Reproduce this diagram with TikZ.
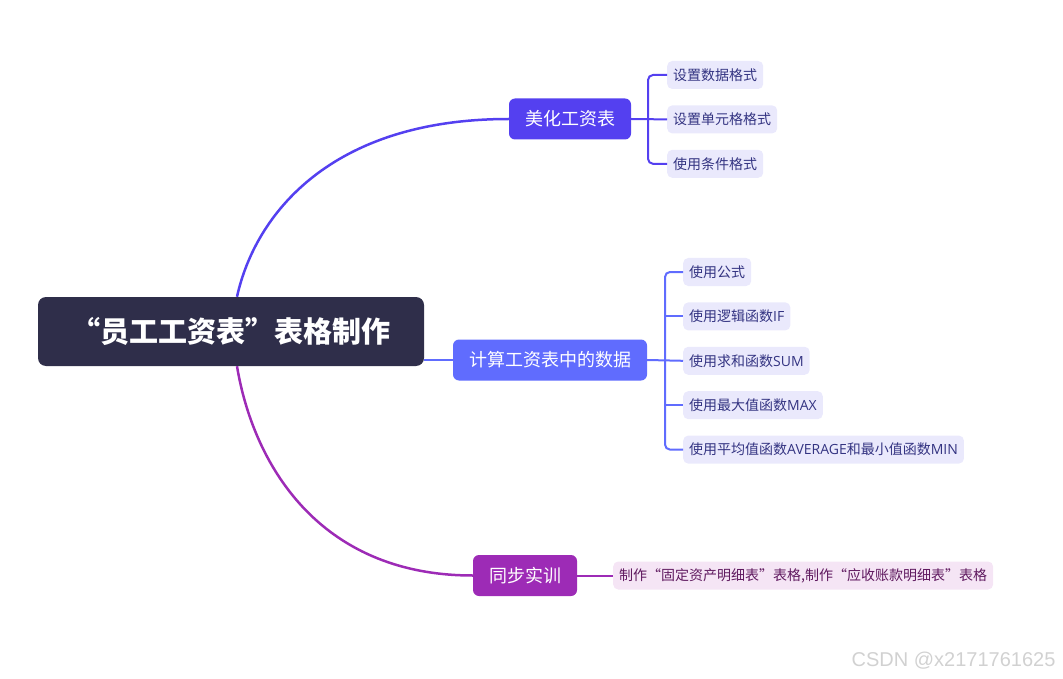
\documentclass[tikz,border=0pt]{standalone}
\usepackage{fontspec}
\setmainfont{Noto Sans CJK SC}
\newfontfamily\widefont[RawFeature=+fwid]{Noto Sans CJK SC}
\newfontfamily\latinfont{Open Sans}
\newfontfamily\markfont{Liberation Sans}
\usepackage{xcolor}
\usepackage{tikz}
\usetikzlibrary{positioning}

\definecolor{rootbg}{RGB}{47,46,74}
\definecolor{beautyc}{RGB}{84,64,240}
\definecolor{computec}{RGB}{96,108,254}
\definecolor{practc}{RGB}{157,43,182}
\definecolor{leafbg}{RGB}{234,233,252}
\definecolor{leaftext}{RGB}{52,52,130}
\definecolor{pleafbg}{RGB}{245,229,245}
\definecolor{pleaftext}{RGB}{95,25,95}

\newcommand{\openq}{{\widefont “}}
\newcommand{\closeq}{{\widefont ”}}
\newcommand{\lat}[1]{{\latinfont #1}}

\begin{document}
\begin{tikzpicture}[
    x=1pt, y=-1pt,
    rootbox/.style={rectangle, fill=rootbg, text=white, rounded corners=8pt, minimum width=386pt, minimum height=69pt, font=\fontsize{29}{33}\selectfont\bfseries},
    branch/.style={rectangle, fill=#1, text=white, rounded corners=6pt, minimum height=41pt, inner xsep=16pt, font=\fontsize{18}{22}\selectfont},
    leaf/.style={rectangle, fill=leafbg, text=leaftext, rounded corners=5pt, minimum height=28pt, inner xsep=6pt, inner ysep=0pt, font=\fontsize{14}{16}\selectfont},
    curve/.style={draw, line width=2.5pt, #1},
    twig/.style={draw, line width=2pt, rounded corners=5pt, #1}
]
    \useasboundingbox (0,0) rectangle (1063,679);

    \node [rootbox] (root) at (231,331.5) {\openq 员工工资表\closeq 表格制作};

    \node [branch=beautyc] (beauty) at (570,119) {美化工资表};
    \node [branch=computec] (compute) at (550,360) {计算工资表中的数据};
    \node [branch=practc] (practice) at (525,575.5) {同步实训};

    % leaves of the first branch
    \node [leaf, anchor=west] (fmtdata) at (667,75) {设置数据格式};
    \node [leaf, below=16pt of fmtdata.south west, anchor=north west] (fmtcell) {设置单元格格式};
    \node [leaf, below=16pt of fmtcell.south west, anchor=north west] (fmtcond) {使用条件格式};

    % leaves of the second branch
    \node [leaf, anchor=west] (formula) at (683,272) {使用公式};
    \node [leaf, below=16pt of formula.south west, anchor=north west] (funcif) {使用逻辑函数\lat{IF}};
    \node [leaf, below=16pt of funcif.south west, anchor=north west] (funcsum) {使用求和函数\lat{SUM}};
    \node [leaf, below=16pt of funcsum.south west, anchor=north west] (funcmax) {使用最大值函数\lat{MAX}};
    \node [leaf, below=16pt of funcmax.south west, anchor=north west] (funcavg) {使用平均值函数\lat{AVERAGE}和最小值函数\lat{MIN}};

    % leaf of the third branch
    \node [leaf, fill=pleafbg, text=pleaftext, anchor=west] (tables) at (613,575.5) {制作\openq 固定资产明细表\closeq 表格,制作\openq 应收账款明细表\closeq 表格};

    \node [anchor=east, text=black!18, font=\fontsize{20}{22}\markfont] (mark) at (1059,661) {CSDN @x2171761625};

    % main connectors
    \path [curve=beautyc] ([xshift=6pt]root.north) .. controls (255,215) and (330,119) .. (beauty.west);
    \path [curve=computec] (root.east |- compute.west) -- (compute.west);
    \path [curve=practc] ([xshift=6pt]root.south) .. controls (253,463) and (318,575.5) .. (practice.west);

    % branch forks
    \coordinate (beautyfork) at (648,119);
    \coordinate (computefork) at (665,360);
    \path [twig=beautyc] (beauty.east) -- (fmtcell.west);
    \path [twig=beautyc] (fmtdata.west) -| (beautyfork) |- (fmtcond.west);
    \path [twig=computec] (compute.east) -- (funcsum.west);
    \path [twig=computec] (formula.west) -| (computefork) |- (funcavg.west);
    \path [twig=computec] (computefork |- funcif.west) -- (funcif.west);
    \path [twig=computec] (computefork |- funcmax.west) -- (funcmax.west);
    \path [twig=practc] (practice.east) -- (tables.west);
\end{tikzpicture}
\end{document}
